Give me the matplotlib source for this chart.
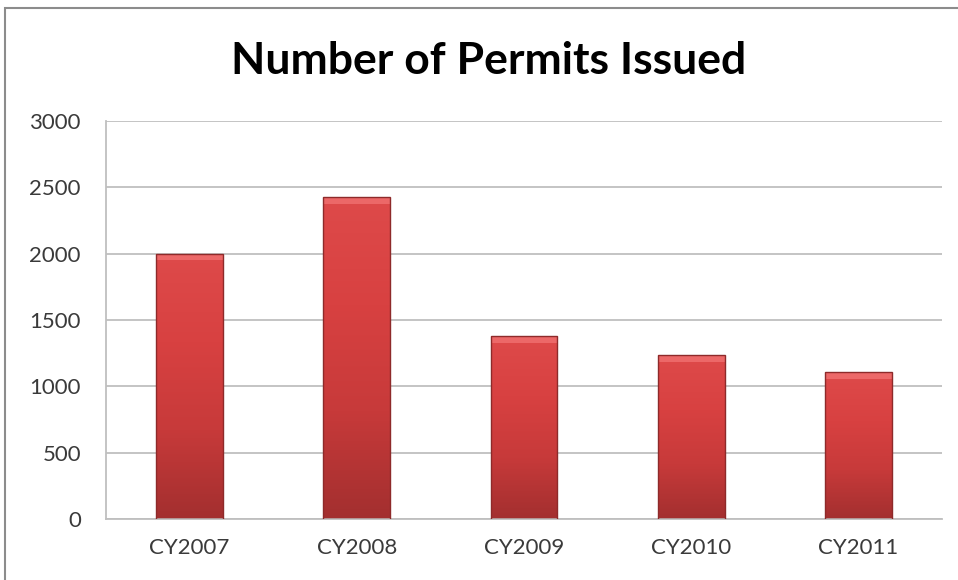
import numpy as np
import matplotlib.pyplot as plt
from matplotlib.colors import LinearSegmentedColormap
from matplotlib.patches import Rectangle

years = ["CY2007", "CY2008", "CY2009", "CY2010", "CY2011"]
permits = [2000, 2425, 1380, 1235, 1105]
y_ticks = [0, 500, 1000, 1500, 2000, 2500, 3000]

plt.rcParams['font.family'] = ['Lato', 'DejaVu Sans']

fig = plt.figure(figsize=(9.58, 5.8), dpi=100)
fig.patch.set_facecolor('white')

# thin gray frame round the chart area
frame = Rectangle((5 / 958, -0.01), 1.0, 1 - 8 / 580 + 0.01, transform=fig.transFigure,
                  fill=False, edgecolor='#8c8c8c', linewidth=1.5)
fig.add_artist(frame)

ax = fig.add_axes([106 / 958, 1 - 519 / 580, 836 / 958, 398 / 580])
x = np.arange(len(years))
width = 0.4

bars = ax.bar(x, permits, width=width, color='none', edgecolor='#8e2a2a',
              linewidth=1.0, zorder=3)

# vertical shading inside each bar, lighter at the top
red = LinearSegmentedColormap.from_list('red', ['#a32f2f', '#c73a3a', '#d84141', '#de4a4a'])
grad = np.linspace(0, 1, 256).reshape(-1, 1)
for b in bars:
    x0, w, h = b.get_x(), b.get_width(), b.get_height()
    im = ax.imshow(grad, cmap=red, origin='lower', aspect='auto',
                   extent=(x0, x0 + w, 0, h), zorder=2)
    im.set_clip_path(b)
    # bevel highlight along the top edge
    ax.add_patch(Rectangle((x0, h - 50), w, 50, facecolor='#ef6e6e',
                           edgecolor='none', alpha=0.85, zorder=2.5))

ax.set_xlim(-0.5, len(years) - 0.5)
ax.set_ylim(0, 3000)
ax.set_yticks(y_ticks)
ax.set_xticks(x)
ax.set_xticklabels(years)
ax.grid(axis='y', color='#bfbfbf', linewidth=1.3, zorder=0)
ax.set_axisbelow(True)
for side in ['top', 'right']:
    ax.spines[side].set_visible(False)
for side in ['left', 'bottom']:
    ax.spines[side].set_color('#bfbfbf')
    ax.spines[side].set_linewidth(1.3)
ax.tick_params(axis='both', length=0, labelsize=16, colors='#3a3a3a')
ax.tick_params(axis='y', pad=18)
ax.tick_params(axis='x', pad=14)

fig.text(489 / 958, 1 - 61 / 580, "Number of Permits Issued", ha='center', va='center',
         fontsize=32, fontweight='bold', color='black')

fig.savefig('out.png', dpi=100)
